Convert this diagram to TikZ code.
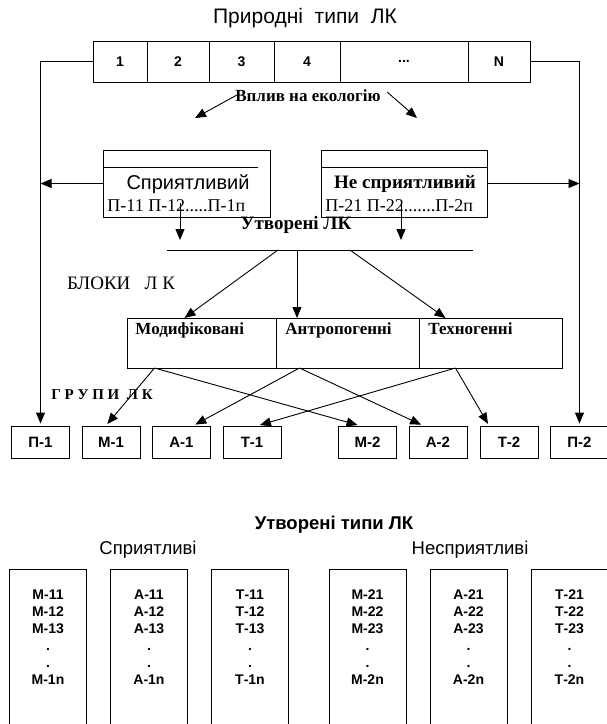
\documentclass[tikz,border=0pt]{standalone}
\usepackage{fontspec}
\setmainfont{Liberation Serif}
\setsansfont{Liberation Sans}
\usepackage{tikz}
\usetikzlibrary{arrows.meta, positioning}

\newcommand{\setfs}[1]{\fontsize{#1}{#1}\selectfont}

\begin{document}
\begin{tikzpicture}[
        x=1pt, y=-1pt,
        line width=0.9pt,
        node distance=0pt,
        cell/.style={
            draw,
            inner sep=0pt,
            outer sep=0pt,
            minimum height=41pt,
            font=\sffamily\bfseries\setfs{14}
        },
        ptbox/.style={draw, inner sep=0pt, minimum width=167pt, minimum height=67pt},
        blk/.style={draw, inner sep=0pt, outer sep=0pt, minimum width=143pt, minimum height=50pt},
        grp/.style={
            draw,
            inner sep=0pt,
            minimum width=58pt,
            minimum height=32pt,
            font=\sffamily\bfseries\setfs{15}
        },
        tipbox/.style={draw, inner sep=0pt, minimum width=77pt, minimum height=171pt},
        lst/.style={align=center, inner sep=0pt, font=\sffamily\bfseries\fontsize{14}{17}\selectfont},
        lbl/.style={inner sep=0pt},
        arrow/.style={-{Triangle[length=11pt, width=9pt]}}
    ]
        \useasboundingbox (0,0) rectangle (607,724);

        % natural types
        \node[lbl, font=\sffamily\setfs{21}] (title) at (305,18) {Природні\ \ типи\ \ ЛК};
        \node[cell, minimum width=54pt] (c1) at (120,61.5) {1};
        \node[cell, minimum width=62pt, right=of c1] (c2) {2};
        \node[cell, minimum width=65pt, right=of c2] (c3) {3};
        \node[cell, minimum width=66pt, right=of c3] (c4) {4};
        \node[cell, minimum width=128pt, right=of c4] (c5) {...};
        \node[cell, minimum width=62pt, right=of c5] (cn) {N};

        % influence
        \node[lbl, font=\bfseries\setfs{17}] (vplyv) at (308,96) {Вплив на екологію};
        \coordinate (vl) at (195,118);
        \coordinate (vr) at (417,118);
        \draw[arrow] ([xshift=2pt, yshift=1pt]vplyv.west) -- (vl);
        \draw[arrow] ([xshift=6pt, yshift=4pt]vplyv.east) -- (vr);

        \node[ptbox] (sprbox) at (186.5,183.5) {};
        \node[ptbox, minimum width=166pt] (nesprbox) at (404,183.5) {};
        \draw ([yshift=-18pt]sprbox.north west) -- ([xshift=-12pt, yshift=-18pt]sprbox.north east);
        \draw ([yshift=-18pt]nesprbox.north west) -- ([yshift=-18pt]nesprbox.north east);
        \node[lbl, font=\sffamily\setfs{20}] (spr) at (188,184) {Сприятливий};
        \node[lbl, font=\bfseries\setfs{19}] (nespr) at (405,184) {Не сприятливий};
        \node[lbl, font=\setfs{18}, anchor=west] (pl1) at (107,206) {П-11 П-12.....П-1п};
        \node[lbl, font=\setfs{18}, anchor=west] (pl2) at (325,206) {П-21 П-22.......П-2п};

        % formed
        \node[lbl, font=\bfseries\setfs{19}] (utv) at (296,225) {Утворені ЛК};
        \coordinate (hl) at (167,250);
        \coordinate (hr) at (473,250);
        \draw (hl) -- (hr);
        \coordinate (dl) at (180,203);
        \coordinate (dr) at (401,205);
        \draw[arrow, shorten >=10pt] (dl) -- (dl |- hl);
        \draw[arrow, shorten >=10pt] (dr) -- (dr |- hl);

        % blocks
        \node[lbl, font=\setfs{19}] (blky) at (121,283) {БЛОКИ\ \ \ Л К};
        \node[blk, minimum width=149pt] (mod) at (201.5,343) {};
        \node[blk, right=of mod] (antr) {};
        \node[blk, right=of antr] (tech) {};
        \node[lbl, font=\bfseries\setfs{17}, below right=4pt and 8pt of mod.north west] (modt) {Модифіковані};
        \node[lbl, font=\bfseries\setfs{17}, below right=4pt and 9pt of antr.north west] (antrt) {Антропогенні};
        \node[lbl, font=\bfseries\setfs{17}, below right=4pt and 9pt of tech.north west] (techt) {Техногенні};
        \coordinate (b1) at (278,250);
        \coordinate (b2) at (297,250);
        \coordinate (b3) at (350,250);
        \draw[arrow] (b1) -- ([xshift=-17pt]mod.north);
        \draw[arrow] (b2) -- (b2 |- antr.north);
        \draw[arrow] (b3) -- ([xshift=-45pt]tech.north);

        % groups
        \node[lbl, font=\bfseries\setfs{15}] (grpy) at (102,395) {Г\ Р\ У\ П\ И\ \ Л\ К};
        \node[grp] (p1) at (40.5,442) {П-1};
        \node[grp] (m1) at (111,442) {М-1};
        \node[grp] (a1) at (181.5,442) {А-1};
        \node[grp] (t1) at (252,442) {Т-1};
        \node[grp] (m2) at (367.5,442) {М-2};
        \node[grp] (a2) at (438,442) {А-2};
        \node[grp] (t2) at (509,442) {Т-2};
        \node[grp] (p2) at (579.5,442) {П-2};

        \draw[arrow, shorten >=2pt] (c1.west) -- (c1.west -| p1.north) -- (p1.north);
        \draw[arrow, shorten >=2pt] (cn.east) -- (cn.east -| p2.north) -- (p2.north);
        \draw[arrow] (sprbox.west) -- (sprbox.west -| p1.north);
        \draw[arrow] (nesprbox.east) -- (nesprbox.east -| p2.north);

        \draw[arrow, shorten >=2pt] ([xshift=-47pt]mod.south) -- ([xshift=-5pt]m1.north);
        \draw[arrow, shorten >=2pt] ([xshift=-47pt]mod.south) -- ([xshift=-8pt]m2.north);
        \draw[arrow, shorten >=2pt] ([xshift=-48pt]antr.south) -- ([xshift=12pt]a1.north);
        \draw[arrow, shorten >=2pt] ([xshift=-48pt]antr.south) -- ([xshift=-15pt]a2.north);
        \draw[arrow, shorten >=2pt] ([xshift=-35pt]tech.south) -- ([xshift=6pt]t1.north);
        \draw[arrow, shorten >=2pt] ([xshift=-35pt]tech.south) -- ([xshift=-20pt]t2.north);

        % formed types
        \node[lbl, font=\sffamily\bfseries\setfs{18.5}] (ttl2) at (334,525) {Утворені типи ЛК};
        \node[lbl, font=\sffamily\setfs{18.5}] (sprl) at (148,550) {Сприятливі};
        \node[lbl, font=\sffamily\setfs{18.5}] (nesprl) at (470,550) {Несприятливі};

        \node[tipbox] (tm1) at (48,654.5) {};
        \node[tipbox] (ta1) at (149,654.5) {};
        \node[tipbox] (tt1) at (250,654.5) {};
        \node[tipbox] (tm2) at (367.5,654.5) {};
        \node[tipbox] (ta2) at (468.5,654.5) {};
        \node[tipbox] (tt2) at (569.5,654.5) {};
        \node[lst, below=21pt of tm1.north] (lm1) {М-11\\М-12\\М-13\\.\\.\\М-1n};
        \node[lst, below=21pt of ta1.north] (la1) {А-11\\А-12\\А-13\\.\\.\\А-1n};
        \node[lst, below=21pt of tt1.north] (lt1) {Т-11\\Т-12\\Т-13\\.\\.\\Т-1n};
        \node[lst, below=21pt of tm2.north] (lm2) {М-21\\М-22\\М-23\\.\\.\\М-2n};
        \node[lst, below=21pt of ta2.north] (la2) {А-21\\А-22\\А-23\\.\\.\\А-2n};
        \node[lst, below=21pt of tt2.north] (lt2) {Т-21\\Т-22\\Т-23\\.\\.\\Т-2n};
    \end{tikzpicture}
\end{document}
